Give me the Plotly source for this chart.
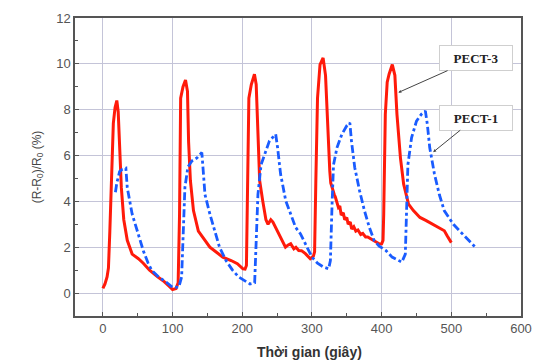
import plotly.graph_objects as go

# PECT-3 (red, solid)
pect3_x = [0, 3, 6, 8, 10, 12.5, 15, 17.5, 20, 22, 24.5, 26.5, 30, 35, 42, 51, 58, 67, 79, 88, 95, 100, 105, 108,
           110, 111.6, 115, 118.6, 121.4, 123, 125.6, 130, 137, 144, 153.5, 163, 172, 184, 193, 201, 204,
           206, 207.5, 209.5, 213, 217.5, 220, 222.5, 225, 229.5, 234, 237, 241, 244, 248, 255, 262, 266, 269.5,
           274, 277, 281, 285, 290.6, 297.6, 302, 303.8,
           305.6, 308, 311.6, 316, 319.5, 322.8, 325.6, 327, 330, 332, 333.5, 336, 338, 340, 342, 345, 347, 350,
           352, 355, 357, 360, 363, 366, 370, 373, 377, 380, 385, 389, 393, 397, 400, 402,
           403, 405.3, 408, 410.7, 415.3, 419, 422, 427, 431.6, 438.6, 445.6, 455, 464, 473.5, 483, 490, 494, 497, 500]
pect3_y = [0.2, 0.4, 0.7, 1.1, 2.7, 4.9, 7.4, 8.1, 8.4, 7.9, 6.3, 4.6, 3.2, 2.3, 1.7, 1.5, 1.3, 1.0, 0.7, 0.5, 0.3, 0.15, 0.2, 0.45,
           3.4, 8.5, 9.0, 9.3, 8.8, 6.6, 4.9, 3.6, 2.7, 2.4, 2.0, 1.78, 1.57, 1.42, 1.28, 1.06, 1.05,
           1.2, 4.9, 8.5, 9.1, 9.55, 9.1, 7.1, 4.9, 4.0, 3.2, 3.0, 3.2, 3.1, 2.85, 2.45, 2.0, 2.1, 2.15,
           1.93, 2.0, 1.86, 1.85, 1.72, 1.5, 1.6, 1.8,
           4.9, 8.5, 9.97, 10.26, 9.5, 7.07, 5.33, 4.8, 4.46, 4.3, 4.2, 3.9, 3.74, 3.8, 3.4, 3.5, 3.2, 3.3,
           3.0, 3.1, 2.8, 2.9, 2.7, 2.75, 2.55, 2.6, 2.45, 2.45, 2.35, 2.3, 2.2, 2.14, 2.15, 2.3,
           3.45, 7.8, 9.2, 9.55, 9.97, 9.5, 7.8, 5.9, 4.75, 3.88, 3.6, 3.3, 3.16, 3.0, 2.87, 2.72, 2.5, 2.35, 2.2]

# PECT-1 (blue, dash-dot)
pect1_x = [18, 20, 24, 28, 33, 35, 42, 49, 58, 65, 70, 80, 90, 100, 109, 113, 115, 117.7, 122, 128, 135, 142,
           144, 146.5, 153.5, 160.5, 167.4, 176.7, 186, 195, 204.6, 211, 217.8, 220, 222.5, 227, 232, 239, 248,
           250.7, 255, 262.4, 269.5, 276.5, 283.6, 290.6, 300, 308, 317, 324, 326.5, 329, 331, 336, 343, 350, 354.4,
           356.7, 361.4, 368.4, 375.3, 382.3, 389.3, 396.5, 406, 415, 424.6, 429, 434, 435.3, 437.7, 443, 450, 457,
           462.8, 465.6, 469, 475.8, 482.8, 489.8, 496, 503, 512.6, 522, 533.5]
pect1_y = [4.4, 4.8, 5.3, 5.4, 5.45, 4.6, 3.45, 2.7, 1.85, 1.3, 1.0, 0.7, 0.5, 0.25, 0.26, 0.7, 2.7, 4.6, 5.5, 5.77, 5.9, 6.13,
           5.33, 4.3, 3.45, 2.72, 2.0, 1.42, 1.0, 0.7, 0.5, 0.4, 0.45, 2.0, 4.3, 5.6, 6.06, 6.64, 6.93,
           6.35, 5.19, 4.03, 3.45, 2.87, 2.58, 2.14, 1.57, 1.3, 1.13, 1.06, 1.42, 4.0, 5.6, 6.35, 6.93, 7.3, 7.43,
           6.64, 5.48, 4.46, 3.6, 2.87, 2.29, 2.05, 1.86, 1.57, 1.42, 1.35, 1.7, 3.45, 5.6, 6.78, 7.5, 7.8,
           7.94, 7.36, 6.35, 5.19, 4.3, 3.6, 3.3, 3.0, 2.69, 2.4, 2.03]

x_ticks = [0, 100, 200, 300, 400, 500, 600]
y_ticks = [0, 2, 4, 6, 8, 10, 12]

fig = go.Figure()
fig.add_trace(go.Scatter(x=pect3_x, y=pect3_y, mode="lines", name="PECT-3",
                         line=dict(color="#ff1a0a", width=3)))
fig.add_trace(go.Scatter(x=pect1_x, y=pect1_y, mode="lines", name="PECT-1",
                         line=dict(color="#1a5cff", width=2.8, dash="8px,3px,3px,3px")))

axis_common = dict(
    showline=True, linecolor="#555555", linewidth=1.5, mirror=True,
    showgrid=True, gridcolor="#c4c4d8", gridwidth=1,
    zeroline=False, ticks="inside", ticklen=4, tickcolor="#555555",
    tickfont=dict(family="Liberation Sans, Arial", size=13, color="#555555"),
)

fig.update_xaxes(range=[-40, 600], tickvals=x_ticks, ticktext=[str(v) for v in x_ticks],
                 minor=dict(dtick=50, ticks="inside", ticklen=3, tickcolor="#555555", showgrid=False),
                 **axis_common)
fig.update_yaxes(range=[-1, 12], tickvals=y_ticks, ticktext=[str(v) for v in y_ticks],
                 minor=dict(dtick=1, ticks="inside", ticklen=3, tickcolor="#555555", showgrid=False),
                 title=dict(text="(R-R<sub>0</sub>)/R<sub>0</sub> (%)",
                            font=dict(family="Liberation Sans, Arial", size=12, color="#444444"),
                            standoff=12),
                 **axis_common)

box = dict(font=dict(family="Liberation Serif, Times New Roman", size=13, color="#222222"),
           bgcolor="white", bordercolor="#cfcfcf", borderwidth=1, width=70, height=22,
           showarrow=True, arrowhead=2, arrowsize=0.6, arrowwidth=1, arrowcolor="#444444",
           xref="x", yref="y", axref="x", ayref="y")
fig.add_annotation(text="<b>PECT-3</b>", x=424, y=8.75, ax=535, ay=10.25, **box)
fig.add_annotation(text="<b>PECT-1</b>", x=474, y=6.15, ax=535, ay=7.65, **box)

fig.add_annotation(text="<b>Thời gian (giây)</b>", xref="paper", yref="paper",
                   x=0.525, y=-0.088, yanchor="top", showarrow=False,
                   font=dict(family="Liberation Sans, Arial", size=14, color="#333333"))

fig.update_layout(width=541, height=362, margin=dict(l=75, r=9, t=18, b=46),
                  plot_bgcolor="white", paper_bgcolor="white", showlegend=False)

fig.write_html("out.html")
